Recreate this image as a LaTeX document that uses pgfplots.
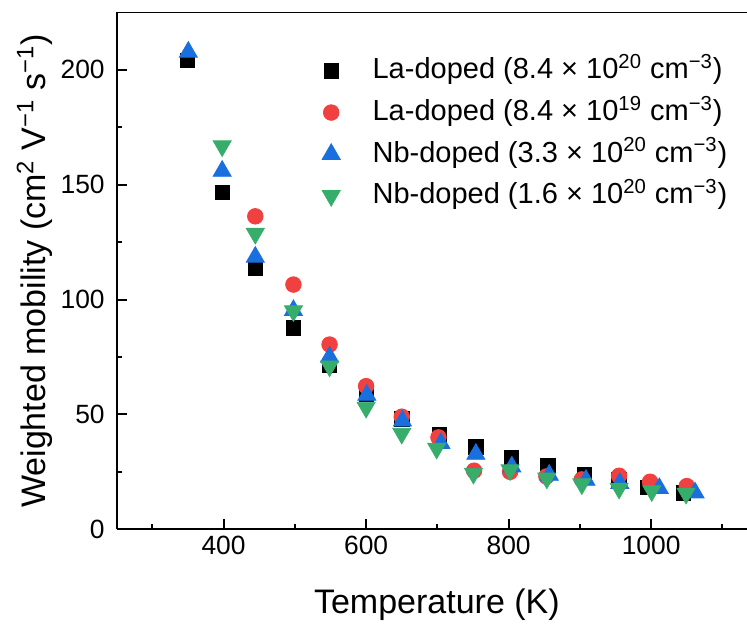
\documentclass[border=0pt]{standalone}
\usepackage{fontspec}
\setmainfont{Liberation Sans}
\usepackage{pgfplots}
\pgfplotsset{compat=1.18}
\definecolor{cRed}{HTML}{F14040}
\definecolor{cBlue}{HTML}{1A6FDF}
\definecolor{cGreen}{HTML}{37AD6B}
\begin{document}
\begin{tikzpicture}
\begin{axis}[
  scale only axis,
  width=315.15pt, height=258.5pt,
  xmin=250, xmax=1134.5, ymin=0, ymax=225,
  axis lines=left,
  axis line style={-, line width=1pt},
  tick align=inside,
  xtick={400,600,800,1000},
  minor xtick={300,500,700,900,1100},
  ytick={0,50,100,150,200},
  minor ytick={25,75,125,175},
  major tick length=5pt, minor tick length=2.5pt,
  every tick/.style={line width=1pt, black},
  /pgf/number format/assume math mode=true,
  /pgf/number format/1000 sep={},
  ticklabel style={font=\fontsize{13.2}{15}\selectfont},
  yticklabel style={xshift=-2.5pt},
  label style={font=\fontsize{17}{20}\selectfont},
  xlabel={Temperature (K)},
  ylabel={Weighted mobility (cm\textsuperscript{2} V\textsuperscript{−1} s\textsuperscript{−1})},
  xlabel style={xshift=2.5pt, yshift=-10pt},
  ylabel style={yshift=-3pt},
  legend cell align=left,
  legend style={draw=none, fill=none, at={(rel axis cs:0.3105,0.926)}, anchor=north west,
    font=\fontsize{14.5}{17}\selectfont,
    nodes={inner sep=0pt, text height=12pt, text depth=4pt},
    row sep=4.8pt},
  legend image code/.code={\draw[#1] plot coordinates {(0pt,0pt)}; \path (-6pt,0pt) (20.5pt,0pt);},
]
\addplot[only marks, color=black, mark=square*, mark size=3.6pt] coordinates {
(349.5,204) (398,146.5) (444.5,113.5) (498,87.7) (548.7,71.4) (600,59) (650,48) (703,41.3) (754,35.9) (803.5,31.3) (855,27.7) (906,24) (955,21.5) (995,18.3) (1045,15.9)};
\addlegendentry{La-doped (8.4 × 10\textsuperscript{20} cm\textsuperscript{−3})}
\addplot[only marks, color=cRed, mark=*, mark size=3.9pt] coordinates {
(444.5,136.2) (498,106.5) (548.7,80.4) (600,62.3) (650,49) (701.5,40) (751.5,25.5) (802,25) (853,23) (902.7,21.7) (955,23.3) (998.5,20.7) (1050,18.8)};
\addlegendentry{La-doped (8.4 × 10\textsuperscript{19} cm\textsuperscript{−3})}
\addplot[only marks, color=cBlue, mark=triangle*, mark size=5.2pt] coordinates {
(350.5,207.7) (398,155.9) (444.5,118.5) (498,95.3) (548.7,75) (601,58.4) (651,47.2) (705,37.4) (754,32.7) (804.5,27.2) (857,23.6) (908.5,21.4) (956,20) (1011.5,17.8) (1061.6,15.9)};
\addlegendentry{Nb-doped (3.3 × 10\textsuperscript{20} cm\textsuperscript{−3})}
\addplot[only marks, color=cGreen, mark=triangle*, mark size=5.2pt, mark options={rotate=180}] coordinates {
(398,166.8) (444.5,128.7) (498,95) (548.7,71) (600,53) (650,41.7) (699,35.2) (750.6,24.3) (802,25.8) (853.6,22.2) (902.7,19.7) (955,17.8) (1000.8,16.7) (1049,15.6)};
\addlegendentry{Nb-doped (1.6 × 10\textsuperscript{20} cm\textsuperscript{−3})}
\draw[line width=1pt] (rel axis cs:0,1) -- (rel axis cs:1,1);
\coordinate (sw) at (rel axis cs:0,0);
\coordinate (ne) at (rel axis cs:1,1);
\end{axis}
\pgfresetboundingbox
\useasboundingbox ([xshift=-58.35pt,yshift=-47.35pt]sw) rectangle ([yshift=6.15pt]ne);
\end{tikzpicture}
\end{document}
